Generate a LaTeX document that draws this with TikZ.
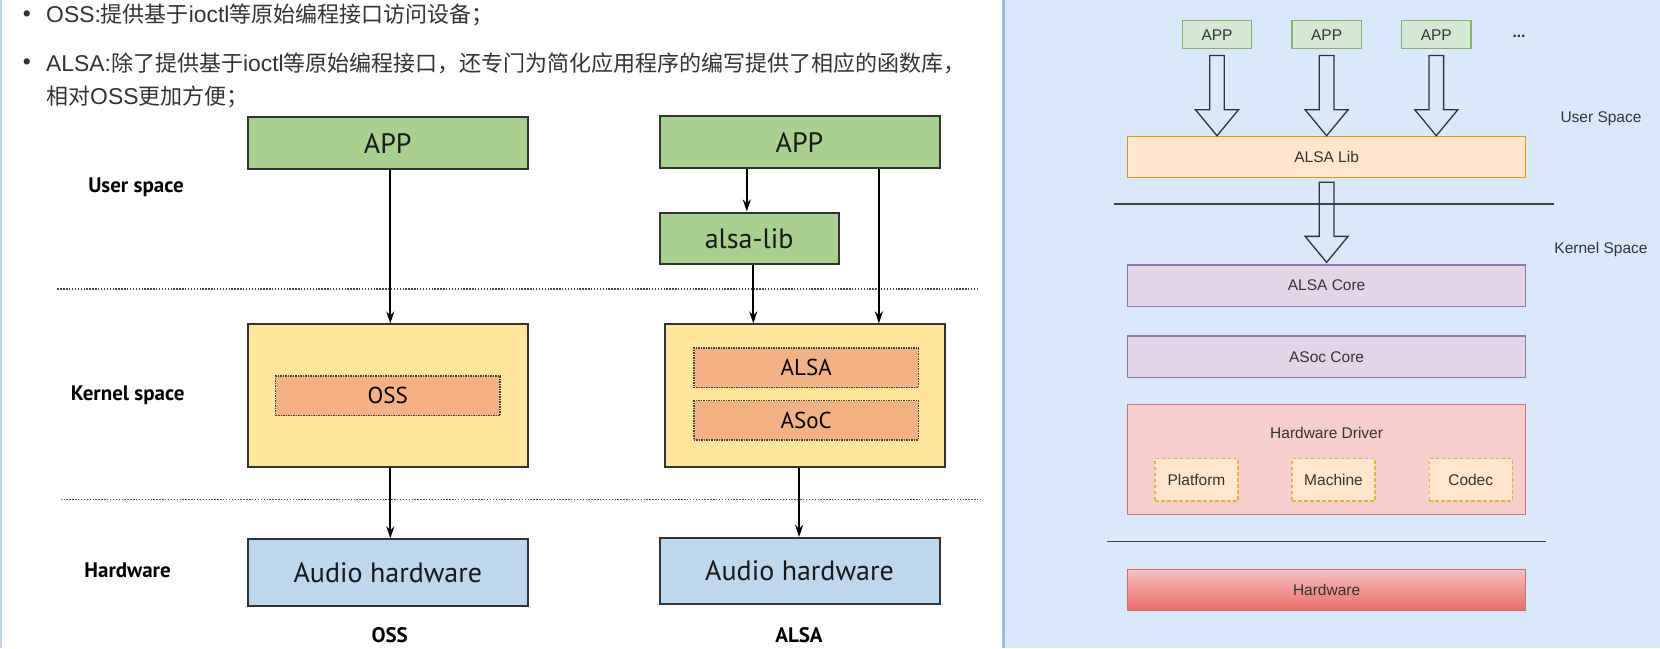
\documentclass[tikz,border=0pt]{standalone}
\usepackage{fontspec}
\setmainfont{Liberation Sans}
\newfontfamily\cjk{Noto Sans CJK SC}
\newfontfamily\lat{Liberation Sans}[Scale=1.04]
\newfontfamily\ptsans{PT Sans}
\usetikzlibrary{arrows.meta,calc}
\definecolor{lgreen}{HTML}{A9D18E}
\definecolor{lyellow}{HTML}{FFE699}
\definecolor{lorange}{HTML}{F4B183}
\definecolor{lblue}{HTML}{BDD7EE}
\definecolor{rbg}{HTML}{DAE8FC}
\definecolor{rdiv}{HTML}{9DBDE6}
\definecolor{txt}{HTML}{333333}
\tikzset{
  lbox/.style={draw=black!80, line width=2pt, inner sep=0pt, font=\ptsans\fontsize{28}{30}\selectfont, text=black!90},
  inbox/.style={draw=black!75, line width=1.5pt, densely dotted, fill=lorange, inner sep=0pt, font=\ptsans\fontsize{23}{25}\selectfont},
  llabel/.style={font=\ptsans\bfseries\fontsize{21}{24}\selectfont, text=black, inner sep=0pt},
  larr/.style={draw=black, line width=1.8pt, -{Stealth[length=12pt,width=8pt]}},
  dotline/.style={draw=black!70, line width=1.6pt, dash pattern=on 1.4pt off 1.5pt},
  rbox/.style={line width=1.2pt, inner sep=0pt, font=\fontsize{15.5}{18}\selectfont, text=txt, minimum width=398.2pt, minimum height=41.3pt},
  appbox/.style={rbox, minimum width=69.4pt, minimum height=28.1pt},
  subbox/.style={rbox, dashed, dash pattern=on 3.5pt off 2.5pt, minimum width=83pt, minimum height=42.1pt},
  blk/.style={draw=black!80, line width=1.3pt, line join=miter},
  rlabel/.style={font=\fontsize{15.5}{18}\selectfont, text=txt, inner sep=0pt},
  bline/.style={draw=black!75, line width=1.5pt},
  bullettext/.style={font=\cjk\fontsize{22}{26}\selectfont, text=txt, inner sep=0pt, anchor=west},
  bulletdot/.style={text=txt, inner sep=0pt, font=\lat\fontsize{22}{22}\selectfont},
}
\newcommand\blockarrow[4]{% from node, to node, top gap, bottom gap
  \draw[blk] let \p1=(#1.south), \p2=(#2.north) in
    (\x1-7.3pt,\y1-#3) -- (\x1+7.3pt,\y1-#3) -- (\x1+7.3pt,\y2+#4+26pt) --
    (\x1+21.5pt,\y2+#4+26pt) -- (\x1,\y2+#4) -- (\x1-21.5pt,\y2+#4+26pt) --
    (\x1-7.3pt,\y2+#4+26pt) -- cycle;}
\begin{document}
\begin{tikzpicture}[x=1pt,y=-1pt]
\useasboundingbox (0,0) rectangle (1660,648);
\fill[white] (0,0) rectangle (1003,648);
\draw[draw=rdiv!70, line width=2pt] (1,0) -- (1,648);
% ---------- right panel background ----------
\fill[rbg] (1003,0) rectangle (1660,648);
\draw[rdiv, line width=3pt] (1003.5,0) -- (1003.5,648);

% ---------- top bullets ----------
\node[bulletdot] (b1) at (27,16) {•};
\node[bullettext] (t1) at (46,15) {{\lat OSS:}提供基于{\lat ioctl}等原始编程接口访问设备；};
\node[bulletdot] (b2) at (27,64) {•};
\node[bullettext] (t2) at (46,63) {{\lat ALSA:}除了提供基于{\lat ioctl}等原始编程接口，还专门为简化应用程序的编写提供了相应的函数库，};
\node[bullettext] (t3) at (46,97) {相对{\lat OSS}更加方便；};

% ---------- left diagram ----------
\node[lbox, fill=lgreen, minimum width=280.6pt, minimum height=51.7pt] (appA) at (387.8,143.3) {APP};
\node[lbox, fill=lgreen, minimum width=280pt, minimum height=51.8pt] (appB) at (799.5,142.3) {APP};
\node[lbox, fill=lgreen, minimum width=179.2pt, minimum height=51.8pt] (libB) at (749.1,238.4) {alsa-lib};
\node[lbox, fill=lyellow, minimum width=280.6pt, minimum height=142.6pt] (kerA) at (387.8,395.7) {};
\node[lbox, fill=lyellow, minimum width=280pt, minimum height=142.6pt] (kerB) at (805.2,395.7) {};
\node[inbox, minimum width=224.5pt, minimum height=39.5pt] (ossIn) at (387.8,395.9) {OSS};
\node[inbox, minimum width=224.5pt, minimum height=39.5pt] (alsaIn) at (806.2,367.9) {ALSA};
\node[inbox, minimum width=224.5pt, minimum height=39.1pt] (asocIn) at (806.2,420.2) {ASoC};
\node[lbox, fill=lblue, minimum width=280.6pt, minimum height=66.4pt] (hwA) at (387.8,572.5) {Audio hardware};
\node[lbox, fill=lblue, minimum width=280pt, minimum height=66.4pt] (hwB) at (799.5,571.1) {Audio hardware};

\node[llabel] (lUser) at (136,187.4) {User space};
\node[llabel] (lKern) at (127.6,395.3) {Kernel space};
\node[llabel] (lHw) at (127.6,570) {Hardware};
\node[llabel] (lOSS) at (389.7,634.7) {OSS};
\node[llabel] (lALSA) at (799,634.7) {ALSA};

\draw[dotline] (57.4,288.7) -- (979,288.7);
\draw[dotline] (60.6,499.5) -- (982,499.5);

\coordinate (xa) at (390.3,0);
\coordinate (xb1) at (746.8,0);
\coordinate (xb2) at (878.9,0);
\coordinate (xb3) at (753.3,0);
\coordinate (xb4) at (799.1,0);
\draw[larr] (appA.south -| xa) -- (kerA.north -| xa);
\draw[larr] (kerA.south -| xa) -- (hwA.north -| xa);
\draw[larr] (appB.south -| xb1) -- (libB.north -| xb1);
\draw[larr] (appB.south -| xb2) -- (kerB.north -| xb2);
\draw[larr] (libB.south -| xb3) -- (kerB.north -| xb3);
\draw[larr] (kerB.south -| xb4) -- (hwB.north -| xb4);

% ---------- right diagram ----------
\node[appbox, fill={rgb,255:red,213;green,232;blue,212}, draw={rgb,255:red,130;green,179;blue,102}] (app1) at (1217,34.75) {APP};
\node[appbox, fill={rgb,255:red,213;green,232;blue,212}, draw={rgb,255:red,130;green,179;blue,102}] (app2) at (1326.6,34.75) {APP};
\node[appbox, fill={rgb,255:red,213;green,232;blue,212}, draw={rgb,255:red,130;green,179;blue,102}] (app3) at (1436.3,34.75) {APP};
\node[rlabel, font=\bfseries\fontsize{15.5}{18}\selectfont] (dots) at (1519,36) {...};
\node[rbox, fill={rgb,255:red,255;green,230;blue,204}, draw={rgb,255:red,215;green,155;blue,0}] (alsalib) at (1326.6,157) {ALSA Lib};
\node[rbox, fill={rgb,255:red,225;green,213;blue,231}, draw={rgb,255:red,150;green,115;blue,166}] (alsacore) at (1326.6,285.6) {ALSA Core};
\node[rbox, fill={rgb,255:red,225;green,213;blue,231}, draw={rgb,255:red,150;green,115;blue,166}] (asoccore) at (1326.6,356.7) {ASoc Core};
\node[rbox, fill={rgb,255:red,248;green,206;blue,204}, draw={rgb,255:red,212;green,110;blue,108}, minimum height=110pt] (hwdrv) at (1326.6,459.6) {};
\node[rlabel] (hwdrvlabel) at (1326.6,432.7) {Hardware Driver};
\node[subbox, fill={rgb,255:red,255;green,230;blue,204}, draw={rgb,255:red,226;green,178;blue,60}] (platform) at (1196.5,479.9) {Platform};
\node[subbox, fill={rgb,255:red,255;green,230;blue,204}, draw={rgb,255:red,226;green,178;blue,60}] (machine) at (1333.5,479.9) {Machine};
\node[subbox, fill={rgb,255:red,255;green,230;blue,204}, draw={rgb,255:red,226;green,178;blue,60}] (codec) at (1470.7,479.9) {Codec};
\node[rbox, top color={rgb,255:red,246;green,196;blue,194}, bottom color={rgb,255:red,234;green,107;blue,102}, draw={rgb,255:red,212;green,110;blue,108}] (hardware) at (1326.6,589.75) {Hardware};

\node[rlabel] (lUS) at (1601,118.5) {User Space};
\node[rlabel] (lKS) at (1601,249.5) {Kernel Space};

\coordinate (l1a) at (1113.6,204.2);
\coordinate (l1b) at (1553.5,204.2);
\coordinate (l2a) at (1107.3,541.4);
\coordinate (l2b) at (1546.3,541.4);
\draw[bline] (l1a) -- (l1b);
\draw[bline] (l2a) -- (l2b);

\blockarrow{app1}{alsalib}{6pt}{0pt}
\blockarrow{app2}{alsalib}{6pt}{0pt}
\blockarrow{app3}{alsalib}{6pt}{0pt}
\blockarrow{alsalib}{alsacore}{4pt}{2pt}
\end{tikzpicture}
\end{document}
